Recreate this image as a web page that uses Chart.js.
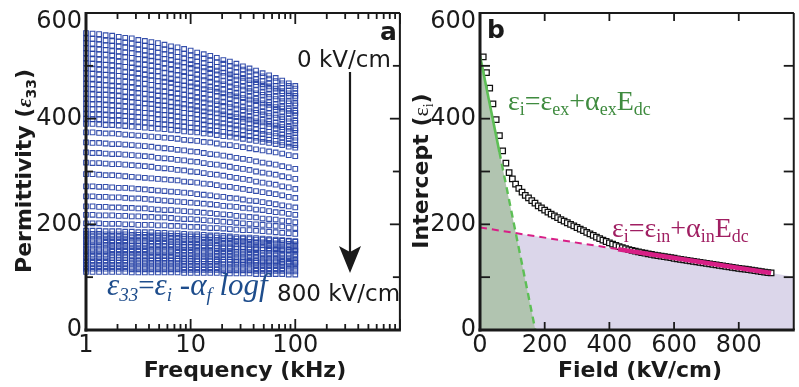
<!DOCTYPE html>
<html>
<head>
<meta charset="utf-8">
<script src="https://cdn.jsdelivr.net/npm/chart.js@4.4.1/dist/chart.umd.min.js"></script>
<style>
  html, body { margin: 0; padding: 0; background: #fff; }
  #wrap { position: relative; width: 799px; height: 387px; overflow: hidden; }
  canvas { position: absolute; top: 0; }
  #permChart { left: 0; }
  #interceptChart { left: 405px; }
</style>
</head>
<body>
<div id="wrap">
  <canvas id="permChart" width="405" height="387"></canvas>
  <canvas id="interceptChart" width="394" height="387"></canvas>
</div>
<script>
// ---- panel a: permittivity vs frequency, one row per bias field (0 -> 800 kV/cm)
const freqKHz = [1, 1.155, 1.334, 1.54, 1.778, 2.054, 2.371, 2.738, 3.162, 3.652, 4.217, 4.87, 5.623, 6.494, 7.499, 8.66,
  10, 11.55, 13.34, 15.4, 17.78, 20.54, 23.71, 27.38, 31.62, 36.52, 42.17, 48.7, 56.23, 64.94, 74.99, 86.6, 100];

const permRows = [
  [562,561,560,558,557,555,553,552,549,547,545,543,540,537,535,532,529,525,522,519,515,511,508,504,499,495,491,486,482,477,472,467,462],
  [552,551,550,548,547,546,544,542,540,538,536,534,531,529,526,523,520,517,514,511,507,504,500,497,493,489,484,480,476,471,467,462,457],
  [543,542,541,539,538,537,535,533,531,529,527,525,522,520,517,514,511,508,505,502,498,495,491,488,484,480,475,471,467,462,458,453,448],
  [533,532,531,530,528,527,525,524,522,520,518,516,513,511,508,506,503,500,497,494,491,487,484,480,477,473,469,465,461,457,452,448,443],
  [524,523,522,521,520,518,517,515,513,512,510,508,505,503,501,498,496,493,490,487,484,481,478,474,471,467,464,460,456,452,448,443,439],
  [514,513,512,511,510,508,507,505,503,502,500,498,495,493,491,488,486,483,480,477,474,471,468,464,461,457,454,450,446,442,438,433,429],
  [505,504,503,502,501,500,498,497,495,493,491,490,487,485,483,481,478,476,473,470,467,465,461,458,455,452,448,445,441,437,433,429,425],
  [495,494,493,492,491,490,488,487,485,483,481,480,477,475,473,471,468,466,463,460,457,455,451,448,445,442,438,435,431,427,423,419,415],
  [486,485,484,483,482,481,480,478,477,475,473,471,470,468,465,463,461,459,456,454,451,448,445,442,439,436,433,429,426,422,419,415,411],
  [476,475,474,473,472,471,470,469,467,466,464,462,461,459,457,455,453,450,448,446,443,441,438,435,432,429,426,423,420,417,413,410,406],
  [466,465,464,463,462,461,460,459,457,456,454,452,451,449,447,445,443,440,438,436,433,431,428,425,422,419,416,413,410,407,403,400,396],
  [457,456,455,455,454,453,451,450,449,447,446,444,443,441,439,437,435,433,431,429,427,424,422,419,416,414,411,408,405,402,399,395,392],
  [447,446,445,445,444,443,441,440,439,437,436,434,433,431,429,427,425,423,421,419,417,414,412,409,406,404,401,398,395,392,389,385,382],
  [438,437,437,436,435,434,433,432,430,429,428,426,425,423,422,420,418,416,414,412,410,408,405,403,400,398,395,393,390,387,384,381,378],
  [428,427,427,426,425,424,423,422,421,420,419,417,416,415,413,411,410,408,406,404,402,400,398,396,394,391,389,386,384,381,379,376,373],
  [419,418,418,417,416,415,414,413,412,411,410,408,407,406,404,402,401,399,397,395,393,391,389,387,385,382,380,377,375,372,370,367,364],
  [409,408,408,407,406,406,405,404,403,402,401,399,398,397,395,394,392,391,389,387,386,384,382,380,378,376,373,371,369,367,364,362,359],
  [400,399,399,398,397,397,396,395,394,393,392,390,389,388,386,385,383,382,380,378,377,375,373,371,369,367,364,362,360,358,355,353,350],
  [390,390,389,388,388,387,386,385,384,383,382,381,380,379,378,376,375,374,372,371,369,367,366,364,362,360,358,356,354,352,350,347,345],
  [374,374,373,372,372,371,370,369,368,367,366,365,364,363,362,360,359,358,356,355,353,351,350,348,346,344,342,340,338,336,334,331,329],
  [355,354,354,353,352,352,351,350,349,348,347,345,344,343,341,340,338,337,335,333,332,330,328,326,324,322,319,317,315,313,310,308,305],
  [336,335,335,334,333,333,332,331,330,329,328,326,325,324,322,321,319,318,316,314,313,311,309,307,305,303,300,298,296,294,291,289,286],
  [317,316,316,315,314,314,313,312,311,310,309,307,306,305,303,302,300,299,297,295,294,292,290,288,286,284,281,279,277,275,272,270,267],
  [295,295,294,293,293,292,291,290,289,288,287,286,285,284,283,281,280,279,277,276,274,272,271,269,267,265,263,261,259,257,255,252,250],
  [272,272,271,271,270,269,269,268,267,266,265,264,263,262,261,260,259,257,256,255,253,252,250,249,247,245,244,242,240,238,236,234,232],
  [253,253,252,252,251,251,250,249,249,248,247,246,245,244,243,242,241,240,239,238,237,235,234,233,231,230,228,227,225,223,222,220,218],
  [234,234,233,233,232,232,231,231,230,230,229,228,227,227,226,225,224,223,222,221,220,219,218,216,215,214,213,211,210,209,207,206,204],
  [218,218,217,217,217,216,216,215,215,214,214,213,213,212,211,210,210,209,208,207,206,205,204,203,202,201,200,199,198,197,196,194,193],
  [202,202,202,201,201,201,200,200,199,199,199,198,198,197,197,196,195,195,194,193,193,192,191,190,189,189,188,187,186,185,184,183,182],
  [188,188,188,187,187,187,186,186,185,185,185,184,184,183,183,182,181,181,180,179,179,178,177,176,175,175,174,173,172,171,170,169,168],
  [182,182,182,181,181,181,181,180,180,180,179,179,179,178,178,177,177,177,176,176,175,174,174,173,173,172,171,171,170,169,169,168,167],
  [177,177,177,176,176,176,176,175,175,175,174,174,174,173,173,172,172,172,171,171,170,169,169,168,168,167,166,166,165,164,164,163,162],
  [171,171,171,170,170,170,170,169,169,169,168,168,168,167,167,166,166,166,165,165,164,163,163,162,162,161,160,160,159,158,158,157,156],
  [166,166,166,165,165,165,165,164,164,164,163,163,163,162,162,161,161,161,160,160,159,158,158,157,157,156,155,155,154,153,153,152,151],
  [160,160,160,160,159,159,159,159,159,159,158,158,158,158,157,157,157,156,156,156,155,155,155,154,154,153,153,152,152,152,151,151,150],
  [154,154,154,154,153,153,153,153,153,153,152,152,152,152,151,151,151,150,150,150,149,149,149,148,148,147,147,146,146,146,145,145,144],
  [149,149,149,149,148,148,148,148,148,148,147,147,147,147,146,146,146,145,145,145,144,144,144,143,143,142,142,141,141,141,140,140,139],
  [143,143,143,143,142,142,142,142,142,142,141,141,141,141,140,140,140,139,139,139,138,138,138,137,137,136,136,135,135,135,134,134,133],
  [138,138,138,138,137,137,137,137,137,137,136,136,136,136,135,135,135,134,134,134,133,133,133,132,132,131,131,130,130,130,129,129,128],
  [132,132,132,132,132,132,132,131,131,131,131,131,131,131,131,130,130,130,130,130,130,129,129,129,129,129,128,128,128,128,128,127,127],
  [127,127,127,127,127,127,127,126,126,126,126,126,126,126,126,125,125,125,125,125,125,124,124,124,124,124,123,123,123,123,123,122,122],
  [121,121,121,121,121,121,121,120,120,120,120,120,120,120,120,119,119,119,119,119,119,118,118,118,118,118,117,117,117,117,117,116,116],
  [116,116,116,116,116,116,116,115,115,115,115,115,115,115,115,114,114,114,114,114,114,113,113,113,113,113,112,112,112,112,112,111,111],
  [110,110,110,110,110,110,110,109,109,109,109,109,109,109,109,108,108,108,108,108,108,107,107,107,107,107,106,106,106,106,106,105,105]
];

const freqMajor = [1, 10, 100, 1000];
const freqMinor = [2, 3, 4, 5, 6, 7, 8, 9, 20, 30, 40, 50, 60, 70, 80, 90, 200, 300, 400, 500, 600, 700, 800, 900];
const freqLabelVals = [1, 10, 100];
const freqLabels = ['1', '10', '100'];
const permMajor = [0, 200, 400, 600];
const permMinor = [100, 300, 500];
const permLabels = ['0', '200', '400', '600'];

// ---- panel b: intercept vs dc field
const fieldKV = [10, 20, 30, 40, 50, 60, 70, 80, 90, 100, 110, 120, 130, 140, 150, 160, 170, 180, 190, 200,
  210, 220, 230, 240, 250, 260, 270, 280, 290, 300, 310, 320, 330, 340, 350, 360, 370, 380, 390, 400,
  410, 420, 430, 440, 450, 460, 470, 480, 490, 500, 510, 520, 530, 540, 550, 560, 570, 580, 590, 600,
  610, 620, 630, 640, 650, 660, 670, 680, 690, 700, 710, 720, 730, 740, 750, 760, 770, 780, 790, 800,
  810, 820, 830, 840, 850, 860, 870, 880, 890, 900];
const interceptVals = [517, 487, 458, 428, 398, 368, 339, 316, 298, 286, 276, 268, 261, 255, 250, 245, 240, 235, 231, 227,
  223, 219.5, 216, 212.5, 209, 206, 203, 200, 197, 194, 191, 188, 185, 182, 179, 176, 173, 170, 167.5, 165,
  162.5, 160, 158, 156, 154, 152.3, 150.7, 149.2, 147.8, 146.5, 145.3, 144.1, 143, 141.9, 140.8, 139.8, 138.8, 137.8, 136.8, 135.8,
  134.8, 133.8, 132.8, 131.8, 130.9, 130, 129, 128, 127, 126, 125.1, 124.2, 123.3, 122.3, 121.3, 120.4, 119.5, 118.6, 117.7, 116.8,
  115.9, 115, 114.1, 113.2, 112.3, 111.4, 110.5, 109.6, 108.8, 108];

// extrinsic fit (solid up to the 2nd point, dashed after) and intrinsic fit (dashed, then solid)
const exFitField = [0, 60, 171];
const exFitValue = [519, 337, 0];
const inFitField = [0, 427, 900, 970];
const inFitValue = [194, 153, 108, 101];

const fieldMajor = [0, 200, 400, 600, 800];
const fieldLabels = ['0', '200', '400', '600', '800'];
const interceptMajor = [0, 200, 400, 600];
const interceptMinor = [100, 300, 500];
const interceptLabels = ['0', '200', '400', '600'];

const SANS = '"DejaVu Sans", sans-serif';
const SERIF = '"Liberation Serif", serif';
const INK = '#1a1a1a';

function pts(xs, ys, from, to) {
  const out = [];
  for (let i = from; i < to; i++) out.push({ x: xs[i], y: ys[i] });
  return out;
}

function seg(ctx, x1, y1, x2, y2) {
  ctx.beginPath();
  ctx.moveTo(x1, y1);
  ctx.lineTo(x2, y2);
  ctx.stroke();
}

function runsWidth(ctx, runs) {
  let w = 0;
  for (const r of runs) { ctx.font = r[1]; w += ctx.measureText(r[0]).width; }
  return w;
}

function drawRuns(ctx, runs, x, y) {
  let cx = x;
  for (const [t, f, dy] of runs) {
    ctx.font = f;
    ctx.fillText(t, cx, y + (dy || 0));
    cx += ctx.measureText(t).width;
  }
}

// frame, inward ticks on all sides, tick labels and axis titles
function axesPlugin(cfg) {
  return {
    id: 'axesFrame',
    afterDraw(chart) {
      const { ctx, chartArea: a } = chart;
      const sx = chart.scales.x, sy = chart.scales.y;
      ctx.save();
      ctx.strokeStyle = INK;
      ctx.lineWidth = 1.8;
      const xt = (vals, len) => vals.forEach(v => {
        const p = sx.getPixelForValue(v);
        seg(ctx, p, a.bottom, p, a.bottom - len);
        seg(ctx, p, a.top, p, a.top + len);
      });
      const yt = (vals, len) => vals.forEach(v => {
        const p = sy.getPixelForValue(v);
        seg(ctx, a.left, p, a.left + len, p);
        seg(ctx, a.right, p, a.right - len, p);
      });
      xt(cfg.xMajor, cfg.xMajorLen);
      xt(cfg.xMinor, cfg.xMinorLen);
      yt(cfg.yMajor, cfg.yMajorLen);
      yt(cfg.yMinor, cfg.yMinorLen);

      ctx.lineWidth = 2;
      seg(ctx, a.left, a.top, a.right, a.top);
      seg(ctx, a.right, a.top, a.right, a.bottom);
      ctx.lineWidth = 3;
      seg(ctx, a.left, a.top - 1, a.left, a.bottom + 1.5);
      seg(ctx, a.left - 1.5, a.bottom, a.right + 1, a.bottom);

      ctx.fillStyle = INK;
      ctx.font = '24px ' + SANS;
      ctx.textAlign = 'right';
      ctx.textBaseline = 'middle';
      cfg.yMajor.forEach((v, i) => {
        const p = Math.max(sy.getPixelForValue(v), a.top + 9);
        ctx.fillText(cfg.yLabels[i], a.left - 4, p);
      });
      ctx.textAlign = 'center';
      ctx.textBaseline = 'alphabetic';
      cfg.xLabelVals.forEach((v, i) => {
        ctx.fillText(cfg.xLabels[i], sx.getPixelForValue(v), 352);
      });

      // x title
      ctx.font = 'bold 22px ' + SANS;
      ctx.fillText(cfg.xTitle, cfg.xTitleX, 377);

      // rotated y title
      ctx.textAlign = 'left';
      ctx.translate(cfg.yTitleX, 171);
      ctx.rotate(-Math.PI / 2);
      const w = runsWidth(ctx, cfg.yTitle);
      drawRuns(ctx, cfg.yTitle, -w / 2, 8);
      ctx.restore();
    }
  };
}

const panelANotes = {
  id: 'panelANotes',
  afterDraw(chart) {
    const ctx = chart.ctx;
    ctx.save();
    ctx.fillStyle = INK;
    ctx.textBaseline = 'alphabetic';
    ctx.textAlign = 'left';
    ctx.font = 'bold 25px ' + SANS;
    ctx.fillText('a', 380, 40);
    ctx.font = '23px ' + SANS;
    ctx.fillText('0 kV/cm', 297, 67);
    ctx.fillText('800 kV/cm', 277, 301);

    // field direction arrow
    ctx.strokeStyle = INK;
    ctx.lineWidth = 2.2;
    seg(ctx, 350, 72, 350, 256);
    ctx.beginPath();
    ctx.moveTo(350, 273);
    ctx.lineTo(339, 246);
    ctx.lineTo(350, 252);
    ctx.lineTo(361, 246);
    ctx.closePath();
    ctx.fill();

    ctx.fillStyle = '#1e4d8c';
    const big = 'italic 31px ' + SERIF, sub = 'italic 19px ' + SERIF;
    drawRuns(ctx, [
      ['ε', big], ['33', sub, 6], ['=', '29px ' + SERIF], ['ε', big], ['i', sub, 6],
      [' -', big], ['α', big], ['f', sub, 6], [' logf', big]
    ], 107, 295);
    ctx.restore();
  }
};

const panelBNotes = {
  id: 'panelBNotes',
  afterDraw(chart) {
    const ctx = chart.ctx;
    ctx.save();
    ctx.textBaseline = 'alphabetic';
    ctx.textAlign = 'left';
    ctx.fillStyle = INK;
    ctx.font = 'bold 25px ' + SANS;
    ctx.fillText('b', 82, 38);
    const big = '28px ' + SERIF, sub = '18px ' + SERIF;
    ctx.fillStyle = '#3f8b3f';
    drawRuns(ctx, [
      ['ε', big], ['i', sub, 5], ['=', big], ['ε', big], ['ex', sub, 5], ['+', big],
      ['α', big], ['ex', sub, 5], ['E', big], ['dc', sub, 5]
    ], 103, 110);
    ctx.fillStyle = '#a01f62';
    drawRuns(ctx, [
      ['ε', big], ['i', sub, 5], ['=', big], ['ε', big], ['in', sub, 5], ['+', big],
      ['α', big], ['in', sub, 5], ['E', big], ['dc', sub, 5]
    ], 207, 237);
    ctx.restore();
  }
};

const baseOptions = (padLeft, padRight) => ({
  responsive: false,
  animation: false,
  events: [],
  layout: { padding: { left: padLeft, right: padRight, top: 13, bottom: 57 } },
  plugins: { legend: { display: false }, tooltip: { enabled: false } }
});

new Chart(document.getElementById('permChart'), {
  type: 'scatter',
  data: {
    datasets: permRows.map(row => ({
      data: row.map((v, i) => ({ x: freqKHz[i], y: v })),
      pointStyle: 'rect',
      pointRadius: 3.3,
      borderWidth: 1.1,
      borderColor: 'rgba(36, 64, 165, 0.92)',
      backgroundColor: 'rgba(255, 255, 255, 0)',
      clip: false
    }))
  },
  options: {
    ...baseOptions(86, 4),
    scales: {
      x: { type: 'logarithmic', min: 1, max: 1000, display: false },
      y: { type: 'linear', min: 0, max: 600, display: false }
    }
  },
  plugins: [
    axesPlugin({
      xMajor: freqMajor, xMinor: freqMinor, xMajorLen: 11, xMinorLen: 6,
      yMajor: permMajor, yMinor: permMinor, yMajorLen: 10, yMinorLen: 7,
      yLabels: permLabels, xLabelVals: freqLabelVals, xLabels: freqLabels,
      xTitle: 'Frequency (kHz)', xTitleX: 245, yTitleX: 23,
      yTitle: [['Permittivity (', 'bold 22px ' + SANS], ['ε', 'italic bold 22px ' + SERIF],
        ['33', 'bold 14px ' + SANS, 5], [')', 'bold 22px ' + SANS]]
    }),
    panelANotes
  ]
});

new Chart(document.getElementById('interceptChart'), {
  type: 'line',
  data: {
    datasets: [
      { // intrinsic region
        data: pts(inFitField, inFitValue, 0, 4), fill: 'origin', backgroundColor: '#dbd6ea',
        borderWidth: 0, pointRadius: 0, order: 6
      },
      { // extrinsic region
        data: pts(exFitField, exFitValue, 0, 3), fill: 'origin', backgroundColor: '#b1c4b0',
        borderWidth: 0, pointRadius: 0, order: 5
      },
      {
        data: fieldKV.map((e, i) => ({ x: e, y: interceptVals[i] })),
        showLine: false, pointStyle: 'rect', pointRadius: 3.9, borderWidth: 1.25,
        borderColor: '#111', backgroundColor: '#fff', order: 3, clip: false
      },
      {
        data: pts(exFitField, exFitValue, 0, 2), borderColor: '#5dbf55', borderWidth: 2.6,
        pointRadius: 0, fill: false, order: 1
      },
      {
        data: pts(exFitField, exFitValue, 1, 3), borderColor: '#5dbf55', borderWidth: 2.4,
        borderDash: [7, 5], pointRadius: 0, fill: false, order: 1
      },
      {
        data: pts(inFitField, inFitValue, 0, 2), borderColor: '#d81f86', borderWidth: 2,
        borderDash: [7, 5], pointRadius: 0, fill: false, order: 1
      },
      {
        data: pts(inFitField, inFitValue, 1, 3), borderColor: '#d81f86', borderWidth: 4.5,
        pointRadius: 0, fill: false, order: 0
      }
    ]
  },
  options: {
    ...baseOptions(75, 1),
    scales: {
      x: { type: 'linear', min: 0, max: 970, display: false },
      y: { type: 'linear', min: 0, max: 600, display: false }
    }
  },
  plugins: [
    axesPlugin({
      xMajor: fieldMajor, xMinor: [], xMajorLen: 8, xMinorLen: 0,
      yMajor: interceptMajor, yMinor: interceptMinor, yMajorLen: 10, yMinorLen: 10,
      yLabels: interceptLabels, xLabelVals: fieldMajor, xLabels: fieldLabels,
      xTitle: 'Field (kV/cm)', xTitleX: 235, yTitleX: 15,
      yTitle: [['Intercept (', 'bold 22px ' + SANS], ['ε', '22px ' + SERIF],
        ['i', '14px ' + SERIF, 5], [')', 'bold 22px ' + SANS]]
    }),
    panelBNotes
  ]
});
</script>
</body>
</html>
